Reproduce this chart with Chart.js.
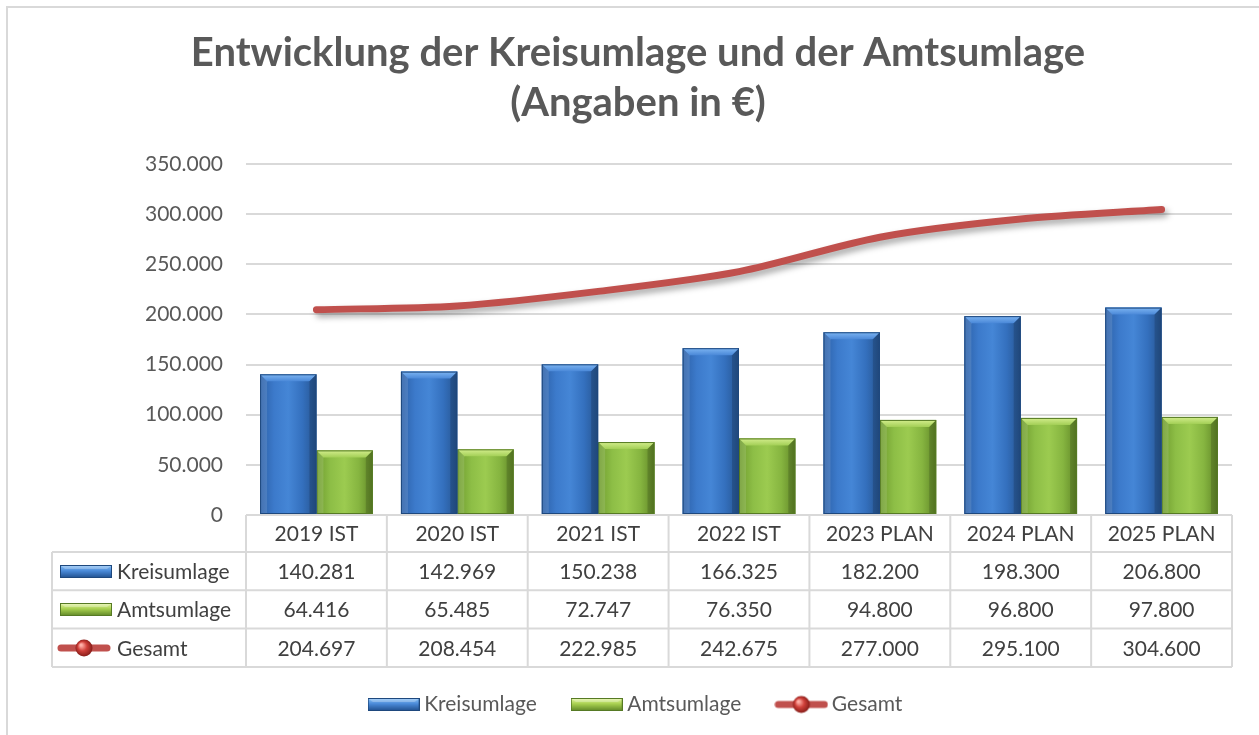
<!DOCTYPE html>
<html><head><meta charset="utf-8">
<script src="https://cdn.jsdelivr.net/npm/chart.js@4.4.1/dist/chart.umd.min.js"></script>
<style>html,body{margin:0;padding:0;background:#fff;}</style>
</head><body>
<canvas id="c" width="1259" height="735"></canvas>
<script>
const categories = ['2019 IST','2020 IST','2021 IST','2022 IST','2023 PLAN','2024 PLAN','2025 PLAN'];
const kreisumlage = [140281,142969,150238,166325,182200,198300,206800];
const amtsumlage = [64416,65485,72747,76350,94800,96800,97800];
const gesamt = [204697,208454,222985,242675,277000,295100,304600];
const seriesNames = ['Kreisumlage','Amtsumlage','Gesamt'];
const titleLines = ['Entwicklung der Kreisumlage und der Amtsumlage','(Angaben in €)'];

const FONT = 'Lato';
const fmt = v => String(v).replace(/\B(?=(\d{3})+(?!\d))/g, '.');

function barSymbol(top, mid, bot, edge){
  const c = document.createElement('canvas'); c.width = 52; c.height = 13;
  const g = c.getContext('2d');
  const gr = g.createLinearGradient(0,0,0,13);
  gr.addColorStop(0, top); gr.addColorStop(0.45, mid); gr.addColorStop(1, bot);
  g.fillStyle = gr; g.fillRect(0,0,52,13);
  g.fillStyle = 'rgba(255,255,255,0.25)';
  g.beginPath(); g.moveTo(0,0); g.lineTo(52,0); g.lineTo(47,4); g.lineTo(5,4); g.closePath(); g.fill();
  g.strokeStyle = edge; g.lineWidth = 1; g.strokeRect(0.5,0.5,51,12);
  return c;
}
function lineSymbol(){
  const c = document.createElement('canvas'); c.width = 54; c.height = 20;
  const g = c.getContext('2d');
  g.strokeStyle = '#C0504D'; g.lineWidth = 7; g.lineCap = 'round';
  g.beginPath(); g.moveTo(4,10); g.lineTo(50,10); g.stroke();
  const rg = g.createRadialGradient(24,7,1,27,10,9);
  rg.addColorStop(0,'#FFB0A8'); rg.addColorStop(0.45,'#D0403A'); rg.addColorStop(1,'#801A16');
  g.fillStyle = rg; g.beginPath(); g.arc(27,10,8.5,0,Math.PI*2); g.fill();
  return c;
}
const symbols = [
  barSymbol('#8CC4F8','#4A8AD8','#1F4E8C','#1E487D'),
  barSymbol('#EAF8A8','#A8D050','#5E8526','#567A24'),
  lineSymbol()
];

const barStyles = [
  {stops:['#2B5FA6','#3C7ACB','#4586D6','#3470BE','#26548F'], bevel:['#7DB5F2','#4A88D8'], edge:'#1E487D'},
  {stops:['#6E9A2E','#8DBE46','#9CCB50','#86B540','#5F8526'], bevel:['#D4EE8E','#A3CF56'], edge:'#567A24'}
];

const bevelPlugin = {
  id:'bevel',
  afterDatasetDraw(chart, args){
    const st = barStyles[args.index]; if(!st) return;
    const ctx = chart.ctx; const meta = args.meta;
    ctx.save();
    meta.data.forEach(el => {
      const l = el.x - el.width/2, r = el.x + el.width/2, t = el.y, b = el.base;
      const g = ctx.createLinearGradient(l,0,r,0);
      st.stops.forEach((s,i)=>g.addColorStop(i/(st.stops.length-1), s));
      ctx.fillStyle = g; ctx.fillRect(l,t,r-l,b-t);
      const bv = Math.min(7,(b-t)/2);
      const gb = ctx.createLinearGradient(0,t,0,t+bv);
      gb.addColorStop(0, st.bevel[0]); gb.addColorStop(1, st.bevel[1]);
      ctx.fillStyle = gb;
      ctx.beginPath(); ctx.moveTo(l,t); ctx.lineTo(r,t); ctx.lineTo(r-bv,t+bv); ctx.lineTo(l+bv,t+bv); ctx.closePath(); ctx.fill();
      ctx.fillStyle = 'rgba(255,255,255,0.12)';
      ctx.beginPath(); ctx.moveTo(l,t); ctx.lineTo(l+bv,t+bv); ctx.lineTo(l+bv,b); ctx.lineTo(l,b); ctx.closePath(); ctx.fill();
      ctx.fillStyle = 'rgba(0,0,0,0.15)';
      ctx.beginPath(); ctx.moveTo(r,t); ctx.lineTo(r-bv,t+bv); ctx.lineTo(r-bv,b); ctx.lineTo(r,b); ctx.closePath(); ctx.fill();
      ctx.strokeStyle = st.edge; ctx.lineWidth = 1;
      ctx.strokeRect(l+0.5,t+0.5,r-l-1,b-t-1);
    });
    ctx.restore();
  },
  beforeDatasetDraw(chart, args){
    if (args.index === 2){
      const ctx = chart.ctx; ctx.save();
      ctx.shadowColor = 'rgba(0,0,0,0.35)'; ctx.shadowBlur = 6; ctx.shadowOffsetX = 3; ctx.shadowOffsetY = 4;
    }
  }
};
const shadowRestore = {
  id:'shadowRestore',
  afterDatasetDraw(chart, args){ if (args.index === 2) chart.ctx.restore(); }
};

const framePlugin = {
  id:'frame',
  beforeDraw(chart){
    const ctx = chart.ctx; ctx.save();
    ctx.fillStyle = '#fff'; ctx.fillRect(0,0,chart.width,chart.height);
    ctx.strokeStyle = '#D9D9D9'; ctx.lineWidth = 2;
    ctx.strokeRect(7,7,chart.width+20,chart.height+20);
    ctx.restore();
  }
};

const tablePlugin = {
  id:'table',
  afterDraw(chart){
    const {ctx, chartArea} = chart; const x = chart.scales.x;
    const n = categories.length; const colW = (x.right - x.left)/n;
    const top = chartArea.bottom; const headH = 37; const rowH = 38.3;
    const legL = 52; const rows = [kreisumlage, amtsumlage, gesamt];
    const bottom = top + headH + rowH*rows.length;
    ctx.save();
    ctx.strokeStyle = '#D9D9D9'; ctx.lineWidth = 2;
    ctx.beginPath();
    ctx.moveTo(x.left, top); ctx.lineTo(x.right, top);
    for (let r=0; r<=rows.length; r++){ const yy = top+headH+r*rowH; ctx.moveTo(legL, yy); ctx.lineTo(x.right, yy); }
    for (let i=0;i<=n;i++){ const xx = x.left + i*colW; ctx.moveTo(xx, top); ctx.lineTo(xx, bottom); }
    ctx.moveTo(legL, top+headH); ctx.lineTo(legL, bottom);
    ctx.stroke();
    ctx.font = '21px ' + FONT; ctx.fillStyle = '#404040'; ctx.textBaseline = 'middle'; ctx.textAlign = 'center';
    categories.forEach((c,i)=> ctx.fillText(c, x.getPixelForValue(i), top+headH/2+1));
    rows.forEach((arr,r)=>{
      const cy = top+headH+r*rowH+rowH/2+1;
      arr.forEach((v,i)=> ctx.fillText(fmt(v), x.getPixelForValue(i), cy));
    });
    ctx.textAlign = 'left';
    rows.forEach((arr,r)=>{
      const cy = top+headH+r*rowH+rowH/2;
      const s = symbols[r];
      ctx.drawImage(s, r===2 ? 57 : 60, Math.round(cy - s.height/2));
      ctx.fillText(seriesNames[r], 117, cy+1);
    });
    ctx.restore();
  }
};

function build(){
  new Chart(document.getElementById('c'), {
    type:'bar',
    data:{
      labels: categories,
      datasets:[
        {label:seriesNames[0], data:kreisumlage, backgroundColor:'#3C7ACB', order:1, categoryPercentage:0.8, barPercentage:1},
        {label:seriesNames[1], data:amtsumlage, backgroundColor:'#8DBE46', order:2, categoryPercentage:0.8, barPercentage:1},
        {type:'line', label:seriesNames[2], data:gesamt, borderColor:'#C0504D', borderWidth:7, borderCapStyle:'round', borderJoinStyle:'round', tension:0.3, pointRadius:0, pointHoverRadius:0, order:0}
      ]
    },
    options:{
      responsive:false, animation:false, devicePixelRatio:1,
      layout:{padding:{left:44, right:27, top:0, bottom:10}},
      plugins:{
        title:{display:true, text:titleLines, color:'#595959', font:{family:FONT, size:40, weight:'bold', lineHeight:1.25}, padding:{top:28, bottom:36}},
        legend:{position:'bottom', labels:{usePointStyle:true, pointStyleWidth:40, padding:40, color:'#595959', font:{family:FONT, size:21},
          generateLabels: ch => ch.data.datasets.map((d,i)=>({text:d.label, pointStyle:symbols[i], fillStyle:'transparent', strokeStyle:'transparent', lineWidth:0, hidden:false, datasetIndex:i, fontColor:'#595959'}))}},
        tooltip:{enabled:false}
      },
      scales:{
        x:{grid:{display:false}, border:{display:false}, ticks:{display:false}, afterFit(s){ s.height = 139; }},
        y:{min:0, max:350000, grid:{color:'#D9D9D9', lineWidth:2, drawTicks:false}, border:{display:false},
           ticks:{stepSize:50000, padding:23, color:'#595959', font:{family:FONT, size:21}, callback:v=>fmt(v)},
           afterFit(s){ s.width = 202; }}
      }
    },
    plugins:[framePlugin, bevelPlugin, shadowRestore, tablePlugin]
  });
}
Promise.all([document.fonts.load('bold 40px Lato'), document.fonts.load('21px Lato')]).then(build, build);
</script>
</body></html>
